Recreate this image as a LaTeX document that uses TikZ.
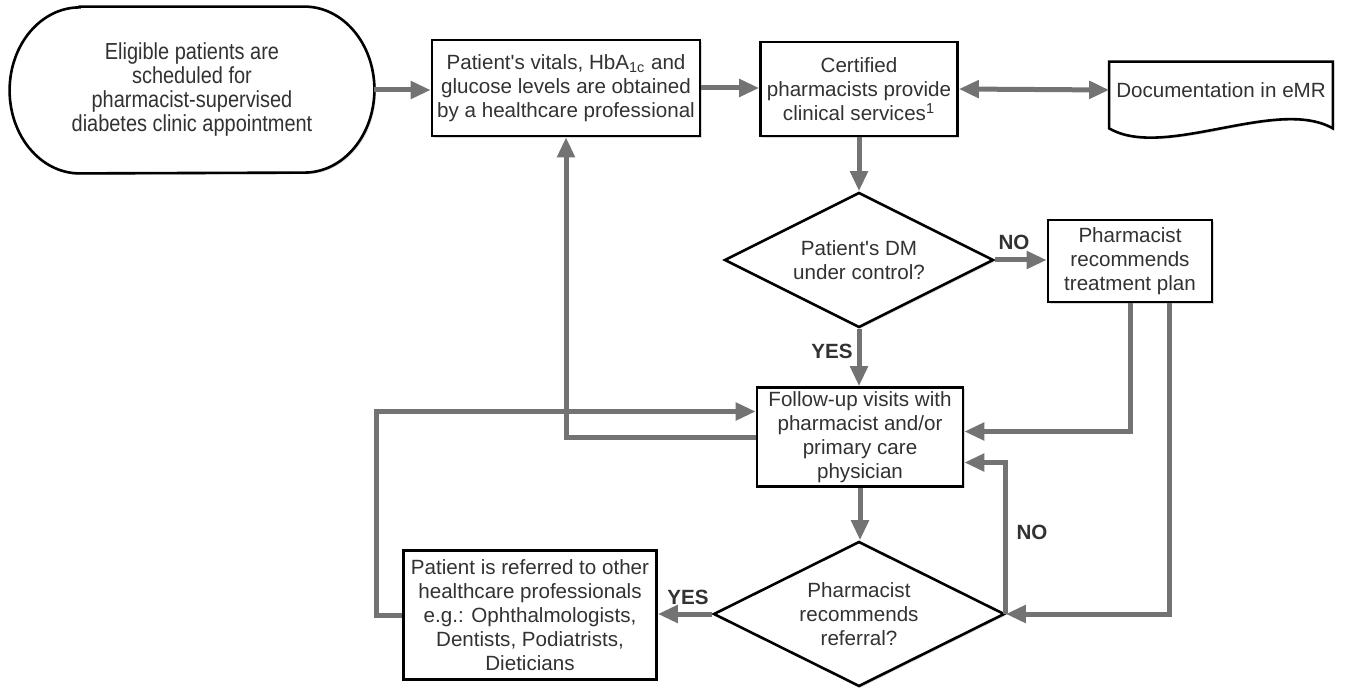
\documentclass[tikz,border=0pt]{standalone}
\usepackage{fontspec}
\setmainfont{Liberation Sans}[Ligatures=TeXOff]
\newfontfamily\startfont{Liberation Sans}[FakeStretch=0.86, Ligatures=TeXOff]
\usepackage{tikz}
\usetikzlibrary{arrows.meta,shapes.geometric,shadows,backgrounds}
\definecolor{flowgray}{RGB}{115,115,115}
\definecolor{inkgray}{RGB}{50,50,50}
\newcommand{\flowcolor}{flowgray}
\newcommand{\flowwidth}{2.5pt}
\newcommand{\edgewidth}{1.3pt}
\newcommand{\tip}{Triangle[length=10pt,width=8.5pt]}

\begin{document}
\begin{tikzpicture}[x=0.5pt,y=-0.5pt,
  every node/.style={font=\fontsize{10.3}{12}\selectfont, text=inkgray, align=center},
  box/.style={draw=black, line width=\edgewidth, fill=white, inner sep=0pt, drop shadow={shadow xshift=0.8pt,shadow yshift=-0.8pt,opacity=0.3}},
  decision/.style={box, diamond, aspect=2},
  arrowline/.style={draw=\flowcolor, line width=\flowwidth, -{\tip}},
  twoway/.style={arrowline, {\tip}-{\tip}},
  yesno/.style={font=\fontsize{10.3}{12}\selectfont\bfseries}]
\useasboundingbox (0,0) rectangle (1347,689);
%top row
\node (start) at (192,90) [minimum width=182pt, minimum height=83pt, font=\startfont\fontsize{11.6}{12}\selectfont] {Eligible patients are\\scheduled for\\pharmacist-supervised\\diabetes clinic appointment};
\node[box] (vitals) at (566,88) [minimum width=134pt, minimum height=48pt] {Patient's vitals, HbA\textsubscript{1c} and\\glucose levels are obtained\\by a healthcare professional};
\node[box] (certified) at (859,89) [minimum width=98.5pt, minimum height=47pt] {Certified\\pharmacists provide\\clinical services\textsuperscript{1}};
\node (doc) at (1221,90) [minimum width=110.5pt, minimum height=28pt] {Documentation in eMR};
%outlines
\begin{scope}[on background layer]
\draw[line width=\edgewidth, fill=white, drop shadow={shadow xshift=0.8pt,shadow yshift=-0.8pt,opacity=0.3}] ([xshift=35pt]start.north west) -- ([xshift=-35pt]start.north east) arc[start angle=90, end angle=-90, x radius=35pt, y radius=41.5pt] -- ([xshift=35pt]start.south west) arc[start angle=270, end angle=90, x radius=35pt, y radius=41.5pt] -- cycle;
\draw[line width=\edgewidth, fill=white, drop shadow={shadow xshift=0.8pt,shadow yshift=-0.8pt,opacity=0.3}] (doc.north west) -- ([yshift=-5pt]doc.south west) .. controls +(27.5pt,-16pt) and +(-28pt,16pt) .. ([yshift=-5pt]doc.south east) -- (doc.north east) -- cycle;
\end{scope}
%middle and bottom
\node[decision] (dm) at (859,260) [minimum width=134.5pt, minimum height=67.5pt] {Patient's DM\\under control?};
\node[box] (treat) at (1130,261) [minimum width=82pt, minimum height=41pt] {Pharmacist\\recommends\\treatment plan};
\node[box] (follow) at (860,437) [minimum width=103pt, minimum height=49.5pt] {Follow-up visits with\\pharmacist and/or\\primary care\\physician};
\node[decision] (refq) at (859,614) [minimum width=145.5pt, minimum height=72.5pt] {Pharmacist\\recommends\\referral?};
\node[box] (refer) at (530,615) [minimum width=126.5pt, minimum height=64.5pt] {Patient is referred to other\\healthcare professionals\\e.g.: Ophthalmologists,\\Dentists, Podiatrists,\\Dieticians};
%answers
\node[yesno] (no1) at (1014,242) {NO};
\node[yesno] (yes1) at (832,351) {YES};
\node[yesno] (no2) at (1032,532) {NO};
\node[yesno] (yes2) at (688,597) {YES};
%arrows
\draw[arrowline] (start.east) -- (start.east -| vitals.west);
\draw[arrowline] (vitals.east) -- (vitals.east -| certified.west);
\draw[twoway] (certified.east) -- (doc.west);
\draw[arrowline] (certified.south) -- (dm.north);
\draw[arrowline] (dm.east) -- (treat.west |- dm.east);
\draw[arrowline] (dm.south) -- (dm.south |- follow.north);
\draw[arrowline] (treat.south) |- ([yshift=2.75pt]follow.east);
\draw[arrowline] ([xshift=19.5pt]treat.south) |- (refq.east);
\draw[arrowline] (follow.west) -| (vitals.south);
\draw[arrowline] (refer.west) -- ++(-13pt,0) |- ([yshift=12.75pt]follow.west);
\draw[arrowline] (follow.south) -- (follow.south |- refq.north);
\draw[arrowline] (refq.west) -- (refq.west -| refer.east);
\draw[arrowline] (refq.east) |- ([yshift=-12.75pt]follow.east);
\end{tikzpicture}
\end{document}
